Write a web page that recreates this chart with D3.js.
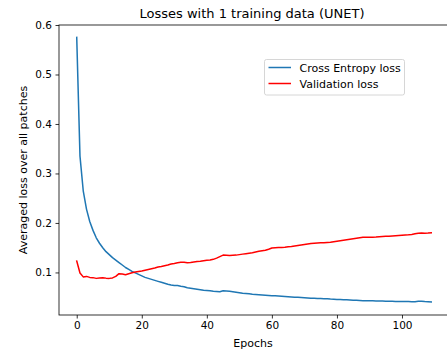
<!DOCTYPE html>
<html>
<head>
<meta charset="utf-8">
<script src="https://cdn.jsdelivr.net/npm/d3@7"></script>
<style>
  body { margin: 0; background: #fff; }
  svg { font-family: 'DejaVu Sans', sans-serif; }
</style>
</head>
<body>
<svg id="graph"></svg>
<script>
// epochs 0..109
const epochs = d3.range(0, 110)

const trainLoss = [
  0.575, 0.335, 0.265, 0.228, 0.203, 0.185, 0.170, 0.159, 0.150, 0.142,
  0.136, 0.130, 0.125, 0.120, 0.115, 0.110, 0.106, 0.102, 0.099, 0.096,
  0.093, 0.090, 0.088, 0.086, 0.084, 0.082, 0.080, 0.078, 0.076, 0.0745,
  0.0735, 0.0735, 0.072, 0.071, 0.069, 0.068, 0.067, 0.066, 0.065, 0.064,
  0.0635, 0.063, 0.062, 0.0615, 0.061, 0.063, 0.0625, 0.062, 0.061, 0.060,
  0.059, 0.058, 0.0575, 0.057, 0.056, 0.0555, 0.055, 0.0545, 0.054, 0.0535,
  0.053, 0.0528, 0.0525, 0.052, 0.0515, 0.051, 0.0505, 0.050, 0.0497, 0.0494,
  0.049, 0.0485, 0.048, 0.0476, 0.0473, 0.0472, 0.047, 0.0466, 0.0462, 0.046,
  0.0455, 0.0452, 0.045, 0.0447, 0.0443, 0.044, 0.0437, 0.0433, 0.043, 0.0428,
  0.0428, 0.0427, 0.0425, 0.0423, 0.0421, 0.042, 0.0418, 0.0416, 0.0415, 0.0414,
  0.0413, 0.0412, 0.0411, 0.041, 0.041, 0.0418, 0.0416, 0.0412, 0.041, 0.0405
]

const valLoss = [
  0.123, 0.099, 0.091, 0.092, 0.090, 0.0895, 0.088, 0.089, 0.0895, 0.0885,
  0.088, 0.089, 0.092, 0.0975, 0.097, 0.0955, 0.0975, 0.0995, 0.101, 0.102,
  0.103, 0.1045, 0.106, 0.1075, 0.109, 0.111, 0.112, 0.1135, 0.115, 0.117,
  0.118, 0.1195, 0.1205, 0.1205, 0.1195, 0.120, 0.121, 0.122, 0.1225, 0.1235,
  0.1245, 0.125, 0.1265, 0.129, 0.132, 0.135, 0.1345, 0.134, 0.1345, 0.135,
  0.136, 0.137, 0.138, 0.139, 0.140, 0.1415, 0.143, 0.144, 0.145, 0.147,
  0.1495, 0.150, 0.1502, 0.1505, 0.151, 0.152, 0.1525, 0.1535, 0.1545, 0.1555,
  0.1565, 0.1575, 0.1585, 0.159, 0.1595, 0.1598, 0.160, 0.1605, 0.161, 0.162,
  0.163, 0.164, 0.165, 0.166, 0.167, 0.168, 0.169, 0.170, 0.171, 0.1712,
  0.1712, 0.1712, 0.1715, 0.172, 0.1725, 0.173, 0.1733, 0.1736, 0.174, 0.1745,
  0.175, 0.1755, 0.176, 0.1768, 0.178, 0.1792, 0.1795, 0.1793, 0.1795, 0.180
]

const xTicks = [0, 20, 40, 60, 80, 100]
const yTicks = [0.1, 0.2, 0.3, 0.4, 0.5, 0.6]

const series = [
  { name: 'Cross Entropy loss', values: trainLoss, color: '#1f77b4' },
  { name: 'Validation loss', values: valLoss, color: '#ff0000' },
]

const width = 447
const height = 352
const margin = { top: 25, left: 59, bottom: 37, right: -2 }
const bodyWidth = width - margin.left - margin.right
const bodyHeight = height - margin.top - margin.bottom

const svg = d3.select('#graph').attr('width', width).attr('height', height)

const xScale = d3.scaleLinear().domain([-5.45, 114.45]).range([0, bodyWidth])
const yScale = d3.scaleLinear().domain([0.014, 0.6]).range([bodyHeight, 0])

const body = svg.append('g').attr('transform', `translate(${margin.left},${margin.top})`)

const line = d3.line()
  .x((d, i) => xScale(epochs[i]))
  .y((d) => yScale(d))

series.forEach((s) => {
  body.append('path')
    .datum(s.values)
    .attr('fill', 'none')
    .attr('stroke', s.color)
    .attr('stroke-width', 1.5)
    .attr('stroke-linejoin', 'round')
    .attr('stroke-linecap', 'square')
    .attr('d', line)
})

// frame
body.append('rect')
  .attr('width', bodyWidth)
  .attr('height', bodyHeight)
  .attr('fill', 'none')
  .attr('stroke', '#000')
  .attr('stroke-width', 0.8)

const axisX = d3.axisBottom(xScale).tickValues(xTicks).tickSize(3.5).tickPadding(3.5).tickFormat(d3.format('d'))
const axisY = d3.axisLeft(yScale).tickValues(yTicks).tickSize(3.5).tickPadding(3.5).tickFormat(d3.format('.1f'))

const gx = body.append('g').attr('transform', `translate(0,${bodyHeight})`).call(axisX)
const gy = body.append('g').call(axisY)
;[gx, gy].forEach((g) => {
  g.select('.domain').remove()
  g.selectAll('line').attr('stroke', '#000').attr('stroke-width', 0.8)
  g.selectAll('text').attr('fill', '#000').style('font-size', '10.5px').style('font-family', 'DejaVu Sans')
})

// title and labels
svg.append('text')
  .attr('x', margin.left + (width - 2 - margin.left) / 2)
  .attr('y', 17.5)
  .attr('text-anchor', 'middle')
  .style('font-size', '13px')
  .text('Losses with 1 training data (UNET)')

svg.append('text')
  .attr('x', 253)
  .attr('y', 346.5)
  .attr('text-anchor', 'middle')
  .style('font-size', '11px')
  .text('Epochs')

svg.append('text')
  .attr('transform', `translate(27,${margin.top + bodyHeight / 2}) rotate(-90)`)
  .attr('text-anchor', 'middle')
  .style('font-size', '11px')
  .text('Averaged loss over all patches')

// legend
const legend = svg.append('g').attr('transform', 'translate(264.5,59.5)')
legend.append('rect')
  .attr('width', 140)
  .attr('height', 35.5)
  .attr('rx', 2)
  .attr('fill', '#fff')
  .attr('fill-opacity', 0.8)
  .attr('stroke', '#cccccc')
  .attr('stroke-width', 0.8)

series.forEach((s, i) => {
  const y = 8 + i * 16
  legend.append('line')
    .attr('x1', 4).attr('x2', 26.5)
    .attr('y1', y).attr('y2', y)
    .attr('stroke', s.color)
    .attr('stroke-width', 1.5)
  legend.append('text')
    .attr('x', 35)
    .attr('y', y + 4)
    .style('font-size', '11px')
    .text(s.name)
})
</script>
